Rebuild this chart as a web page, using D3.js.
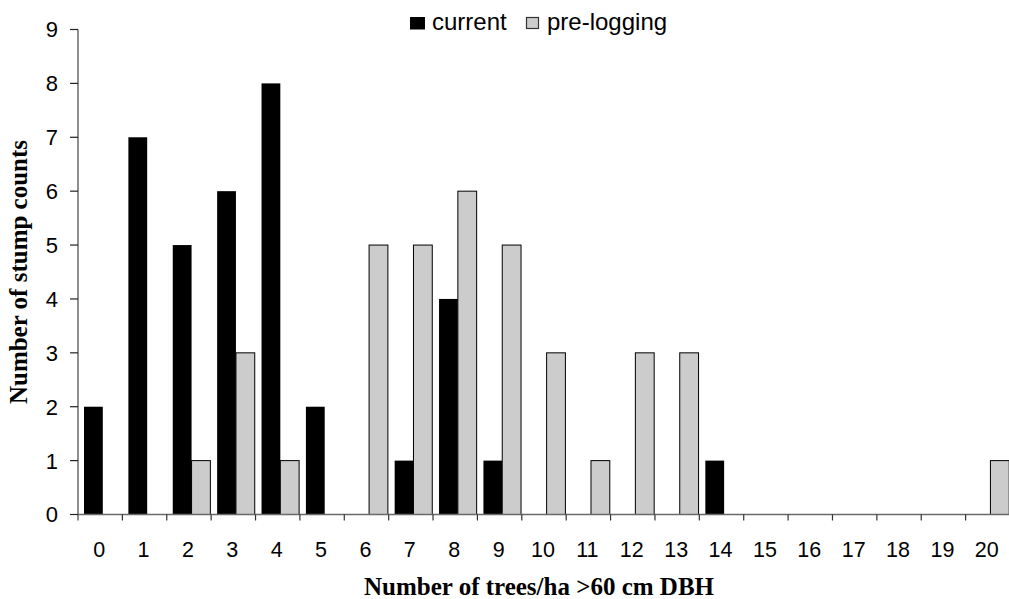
<!DOCTYPE html>
<html>
<head>
<meta charset="utf-8">
<script src="https://cdn.jsdelivr.net/npm/d3@7/dist/d3.min.js"></script>
<style>
  html, body { margin: 0; padding: 0; background: #fff; }
  svg { display: block; }
</style>
</head>
<body>
<svg id="chart" width="1009" height="599"></svg>
<script>
// Number of trees/ha > 60 cm DBH (x categories)
const categories = ["0","1","2","3","4","5","6","7","8","9","10","11","12","13","14","15","16","17","18","19","20"];
// Stump counts per class
const currentCounts    = [2, 7, 5, 6, 8, 2, 0, 1, 4, 1, 0, 0, 0, 0, 1, 0, 0, 0, 0, 0, 0];
const preLoggingCounts = [0, 0, 1, 3, 1, 0, 5, 5, 6, 5, 3, 1, 3, 3, 0, 0, 0, 0, 0, 0, 1];
const seriesNames = ["current", "pre-logging"];
const yTicks = [0, 1, 2, 3, 4, 5, 6, 7, 8, 9];

const svg = d3.select("#chart");
const plotLeft = 78, plotRight = 1010, plotTop = 29.5, plotBottom = 514.5;

const x = d3.scaleBand().domain(categories).range([plotLeft, plotRight]).padding(0);
const inner = d3.scaleBand().domain(seriesNames).range([6, 43.6]).padding(0);
const y = d3.scaleLinear().domain([0, 9]).range([plotBottom, plotTop]);

const fills = { "current": "#000000", "pre-logging": "#cccccc" };
const axisColor = "#6a6a6a";

const rows = categories.map((c, i) => ({
  cat: c,
  values: [
    { key: "current", value: currentCounts[i] },
    { key: "pre-logging", value: preLoggingCounts[i] }
  ]
}));

// Bars
const groups = svg.append("g").selectAll("g")
  .data(rows).join("g")
  .attr("transform", d => `translate(${x(d.cat)},0)`);

groups.selectAll("rect")
  .data(d => d.values.filter(v => v.value > 0))
  .join("rect")
  .attr("x", d => inner(d.key))
  .attr("width", inner.bandwidth())
  .attr("y", d => y(d.value))
  .attr("height", d => y(0) - y(d.value))
  .attr("fill", d => fills[d.key])
  .attr("stroke", d => d.key === "pre-logging" ? "#000" : "none")
  .attr("stroke-width", 1);

// Y axis
const yAxis = svg.append("g");
yAxis.append("line")
  .attr("x1", plotLeft).attr("x2", plotLeft)
  .attr("y1", plotTop).attr("y2", plotBottom + 6)
  .attr("stroke", axisColor).attr("stroke-width", 1.5);
yAxis.selectAll("line.tick")
  .data(yTicks).join("line").attr("class", "tick")
  .attr("x1", plotLeft - 8).attr("x2", plotLeft)
  .attr("y1", d => y(d)).attr("y2", d => y(d))
  .attr("stroke", "#222").attr("stroke-width", 1.2);
yAxis.selectAll("text")
  .data(yTicks).join("text")
  .attr("x", 58).attr("y", d => y(d))
  .attr("dy", "0.36em")
  .attr("text-anchor", "end")
  .attr("font-family", "'Liberation Sans', Arial, sans-serif")
  .attr("font-size", 22)
  .attr("fill", "#000")
  .text(d => d);

// X axis
const xAxis = svg.append("g");
xAxis.append("line")
  .attr("x1", plotLeft).attr("x2", plotRight)
  .attr("y1", plotBottom).attr("y2", plotBottom)
  .attr("stroke", axisColor).attr("stroke-width", 1.5);
xAxis.selectAll("line.tick")
  .data(categories.slice(1)).join("line").attr("class", "tick")
  .attr("x1", d => x(d)).attr("x2", d => x(d))
  .attr("y1", plotBottom).attr("y2", plotBottom + 6)
  .attr("stroke", "#333").attr("stroke-width", 1.2);
xAxis.selectAll("text")
  .data(categories).join("text")
  .attr("x", d => x(d) + x.bandwidth() / 2 - 1)
  .attr("y", 556.5)
  .attr("text-anchor", "middle")
  .attr("font-family", "'Liberation Sans', Arial, sans-serif")
  .attr("font-size", 21.5)
  .attr("fill", "#000")
  .text(d => d);

// Axis titles
svg.append("text")
  .attr("x", 539).attr("y", 595)
  .attr("text-anchor", "middle")
  .attr("font-family", "'Liberation Serif', 'Times New Roman', serif")
  .attr("font-weight", "bold")
  .attr("font-size", 25)
  .text("Number of trees/ha >60 cm DBH");

svg.append("text")
  .attr("transform", "translate(27,272) rotate(-90)")
  .attr("text-anchor", "middle")
  .attr("font-family", "'Liberation Serif', 'Times New Roman', serif")
  .attr("font-weight", "bold")
  .attr("font-size", 25)
  .text("Number of stump counts");

// Legend
const legendItems = [
  { key: "current", sx: 410, tx: 432 },
  { key: "pre-logging", sx: 526, tx: 547 }
];
const legend = svg.append("g");
legend.selectAll("rect")
  .data(legendItems).join("rect")
  .attr("x", d => d.sx).attr("y", 17)
  .attr("width", d => d.key === "current" ? 15 : 12)
  .attr("height", d => d.key === "current" ? 12.5 : 11)
  .attr("transform", d => d.key === "current" ? null : "translate(0.5,0.5)")
  .attr("fill", d => fills[d.key])
  .attr("stroke", d => d.key === "current" ? "none" : "#333")
  .attr("stroke-width", 1.2);
legend.selectAll("text")
  .data(legendItems).join("text")
  .attr("x", d => d.tx).attr("y", 29.5)
  .attr("font-family", "'Liberation Sans', Arial, sans-serif")
  .attr("font-size", 24)
  .attr("fill", "#000")
  .text(d => d.key);
</script>
</body>
</html>
